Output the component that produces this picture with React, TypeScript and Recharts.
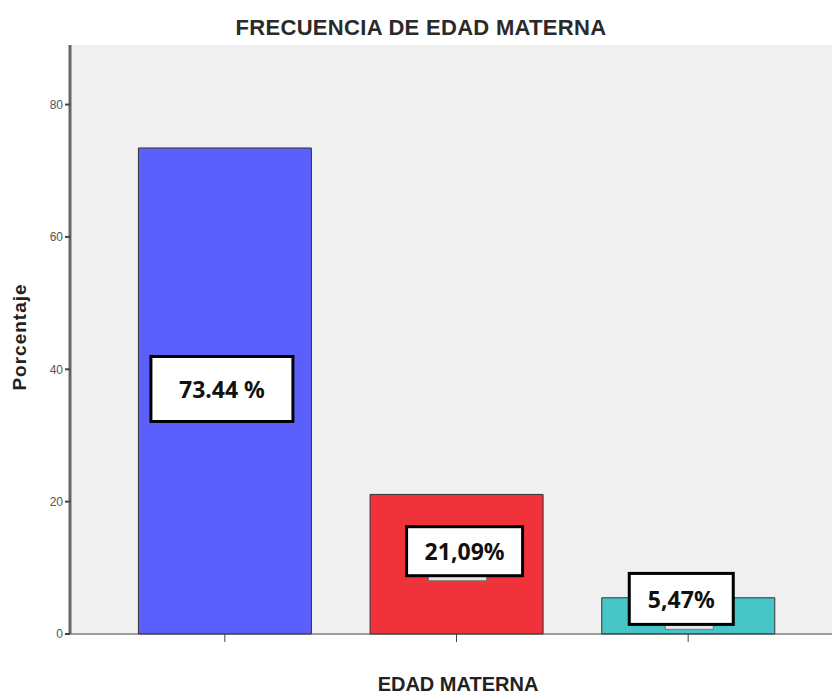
import React from 'react';
import { BarChart, Bar, XAxis, YAxis, CartesianGrid, Cell, LabelList } from 'recharts';

const categories = ['Categoría 1', 'Categoría 2', 'Categoría 3'];
const percentages = [73.44, 21.09, 5.47];
const valueLabels = ['73.44 %', '21,09%', '5,47%'];
const barColors = ['#5b5ffc', '#f0323a', '#47c4c6'];
const yTicks = [0, 20, 40, 60, 80];

const data = categories.map((name, i) => ({
  name,
  value: percentages[i],
  label: valueLabels[i],
}));

// box size and offset from the bar centre, per bar
const boxLayout = [
  { w: 142, h: 65, dx: -3, dy: -2, tab: null },
  { w: 116, h: 49, dx: 8, dy: -13, tab: { dx: -36, w: 58 } },
  { w: 104, h: 51, dx: -7, dy: -17, tab: { dx: -16, w: 48 } },
];

const BoxLabel = (props: any) => {
  const { x, y, width, height, value } = props;
  let index = props.index;
  if (index == null) index = valueLabels.indexOf(value);
  const b = boxLayout[index] || boxLayout[0];
  const cx = Number(x) + Number(width) / 2 + b.dx;
  const cy = Number(y) + Number(height) / 2 + b.dy;
  return (
    <g>
      {b.tab && (
        <rect x={cx + b.tab.dx} y={cy + b.h / 2} width={b.tab.w} height={5} fill="#e6e6e6" stroke="#777" strokeWidth={1} />
      )}
      <rect x={cx - b.w / 2} y={cy - b.h / 2} width={b.w} height={b.h} fill="#fff" stroke="#000" strokeWidth={3} />
      <text x={cx} y={cy} textAnchor="middle" dominantBaseline="central" fontFamily="'Noto Sans', sans-serif" fontWeight="bold" fontSize={23} fill="#111">
        {value}
      </text>
    </g>
  );
};

const App = () => {
  return (
    <div style={{ position: 'fixed', top: 0, left: 0, width: 832, height: 698, overflow: 'hidden', background: '#fff', fontFamily: "'Liberation Sans', Arial, sans-serif" }}>
      <div style={{ position: 'absolute', top: 15, left: 0, width: 842, textAlign: 'center', fontWeight: 'bold', fontSize: 22, letterSpacing: 0.3, color: '#2a2a2a', zIndex: 2 }}>
        FRECUENCIA DE EDAD MATERNA
      </div>
      <BarChart width={850} height={698} data={data} margin={{ top: 45, right: 7, bottom: 34, left: 40 }} barCategoryGap="12.7%">
        <CartesianGrid horizontal={false} vertical={false} fill="#f0f0f0" />
        <XAxis xAxisId="top" orientation="top" dataKey="name" height={0} tick={false} tickLine={false} axisLine={{ stroke: '#555', strokeWidth: 2 }} padding={{ left: 39, right: 39 }} />
        <XAxis dataKey="name" tickFormatter={() => ''} tickSize={8} tickLine={{ stroke: '#444' }} axisLine={{ stroke: '#444' }} height={30} padding={{ left: 39, right: 39 }} />
        <YAxis domain={[0, 89]} ticks={yTicks} width={30} tickSize={5} tick={{ fill: '#555', fontSize: 12 }} tickLine={{ stroke: '#444', strokeWidth: 2 }} axisLine={{ stroke: '#666', strokeWidth: 3 }} />
        <Bar dataKey="value" stroke="#333" strokeWidth={1} isAnimationActive={false}>
          {data.map((d, i) => (
            <Cell key={d.name} fill={barColors[i]} />
          ))}
          <LabelList dataKey="label" content={<BoxLabel />} />
        </Bar>
      </BarChart>
      <div style={{ position: 'absolute', top: 673, left: 0, width: 916, textAlign: 'center', fontWeight: 'bold', fontSize: 20, color: '#222' }}>
        EDAD MATERNA
      </div>
      <div style={{ position: 'absolute', left: 20, top: 337, transform: 'translate(-50%, -50%) rotate(-90deg)', fontWeight: 'bold', fontSize: 19, letterSpacing: 1, color: '#222', whiteSpace: 'nowrap' }}>
        Porcentaje
      </div>
    </div>
  );
};

export default App;
